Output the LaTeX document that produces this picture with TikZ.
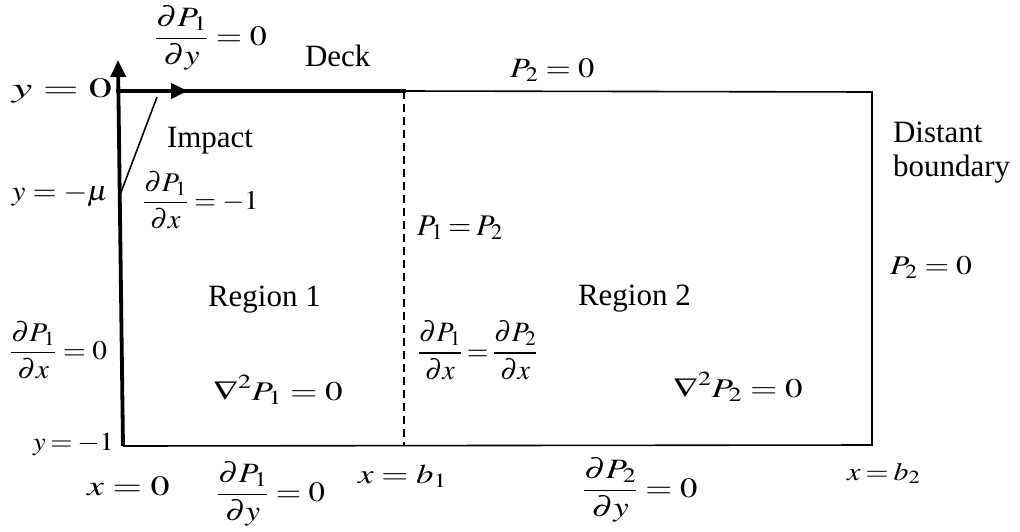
\documentclass[tikz,border=0pt]{standalone}
\usepackage{amsmath}
\usepackage{mathptmx}
\usepackage[no-math]{fontspec}
\setmainfont{Liberation Serif}
\usepackage{graphicx}
\usetikzlibrary{arrows.meta}
\newcommand\mth[3]{\fontsize{#1}{#1}\selectfont\scalebox{#2}[1]{$\displaystyle #3$}}
\newcommand\txt[1]{\fontsize{31}{35}\selectfont #1}
\tikzset{
  lbl/.style={inner sep=0pt, outer sep=0pt},
  bold/.style={line width=3.8pt},
  thinl/.style={line width=1.6pt},
  tip/.style={-{Triangle[length=17pt,width=15pt]}},
}
\begin{document}
\begin{tikzpicture}[x=1pt,y=-1pt]
\useasboundingbox (0,0) rectangle (1020,531);
% corners
\coordinate (O)  at (118,91);
\coordinate (YT) at (118,60);
\coordinate (XT) at (188,91);
\coordinate (BL) at (123,446);
\coordinate (DT) at (404,91);
\coordinate (DB) at (404,446);
\coordinate (TR) at (872,92);
\coordinate (BR) at (872,445);
\coordinate (I1) at (157,97);
\coordinate (I2) at (120,195);
% lines
\draw[thinl] (DT) -- (TR) -- (BR) -- (BL);
\draw[thinl, dash pattern=on 8pt off 5pt] (DT) -- (DB);
\draw[thinl] (I1) -- (I2);
\draw[bold, line cap=rect] (O) -- (DT);
\draw[bold, tip] (BL) -- (YT);
\draw[bold, tip] (O) -- (XT);
% texts
\node[lbl, anchor=west] (n1) at (155,38) {\mth{28}{1.21}{\frac{\partial P_1}{\partial y}=0}};
\node[lbl, anchor=base west] (deck) at (305,66) {\txt{Deck}};
\node[lbl, anchor=base west] (p2top) at (510,77) {\mth{28}{1.16}{P_2=0}};
\node[lbl, anchor=base west] (y0) at (12,97) {\mth{28}{1.65}{y=0}};
\node[lbl, anchor=base west] (imp) at (167,147) {\txt{Impact}};
\node[lbl, anchor=base west] (ymu) at (12,200) {\mth{28}{1.1}{y=-\mu}};
\node[lbl, anchor=west] (dx1) at (143,200) {\mth{27}{1.05}{\frac{\partial P_1}{\partial x}=-1}};
\node[lbl, anchor=base west] (dist) at (893,142) {\txt{Distant}};
\node[lbl, anchor=base west] (bnd) at (893,176) {\txt{boundary}};
\node[lbl, anchor=base west] (p1p2) at (417,235) {\mth{30}{1}{P_1\mskip3mu{=}\mskip3mu P_2}};
\node[lbl, anchor=base west] (p2r) at (890,274) {\mth{27}{1.17}{P_2=0}};
\node[lbl, anchor=base west] (r1) at (208,306) {\txt{Region 1}};
\node[lbl, anchor=base west] (r2) at (578,305) {\txt{Region 2}};
\node[lbl, anchor=west] (dx0) at (10,350) {\mth{27}{1.09}{\frac{\partial P_1}{\partial x}=0}};
\node[lbl, anchor=west] (cont) at (418,350) {\mth{28}{1.0}{\frac{\partial P_1}{\partial x}\mskip3mu{=}\mskip3mu\frac{\partial P_2}{\partial x}}};
\node[lbl, anchor=base west] (lap1) at (213,400) {\mth{27}{1.3}{\nabla^2 P_1=0}};
\node[lbl, anchor=base west] (lap2) at (673,397) {\mth{27}{1.3}{\nabla^2 P_2=0}};
\node[lbl, anchor=base west] (ym1) at (33,450) {\mth{26}{1.1}{y\mskip3mu{=}\mskip3mu{-1}}};
\node[lbl, anchor=base west] (x0) at (87,495) {\mth{28}{1.36}{x=0}};
\node[lbl, anchor=west] (dy1) at (217,494) {\mth{28}{1.17}{\frac{\partial P_1}{\partial y}=0}};
\node[lbl, anchor=base west] (xb1) at (358,483) {\mth{27}{1.29}{x=b_1}};
\node[lbl, anchor=west] (dy2) at (583,490) {\mth{28}{1.24}{\frac{\partial P_2}{\partial y}=0}};
\node[lbl, anchor=base west] (xb2) at (847,480) {\mth{25}{1.2}{x\mskip3mu{=}\mskip3mu b_2}};
\end{tikzpicture}
\end{document}
